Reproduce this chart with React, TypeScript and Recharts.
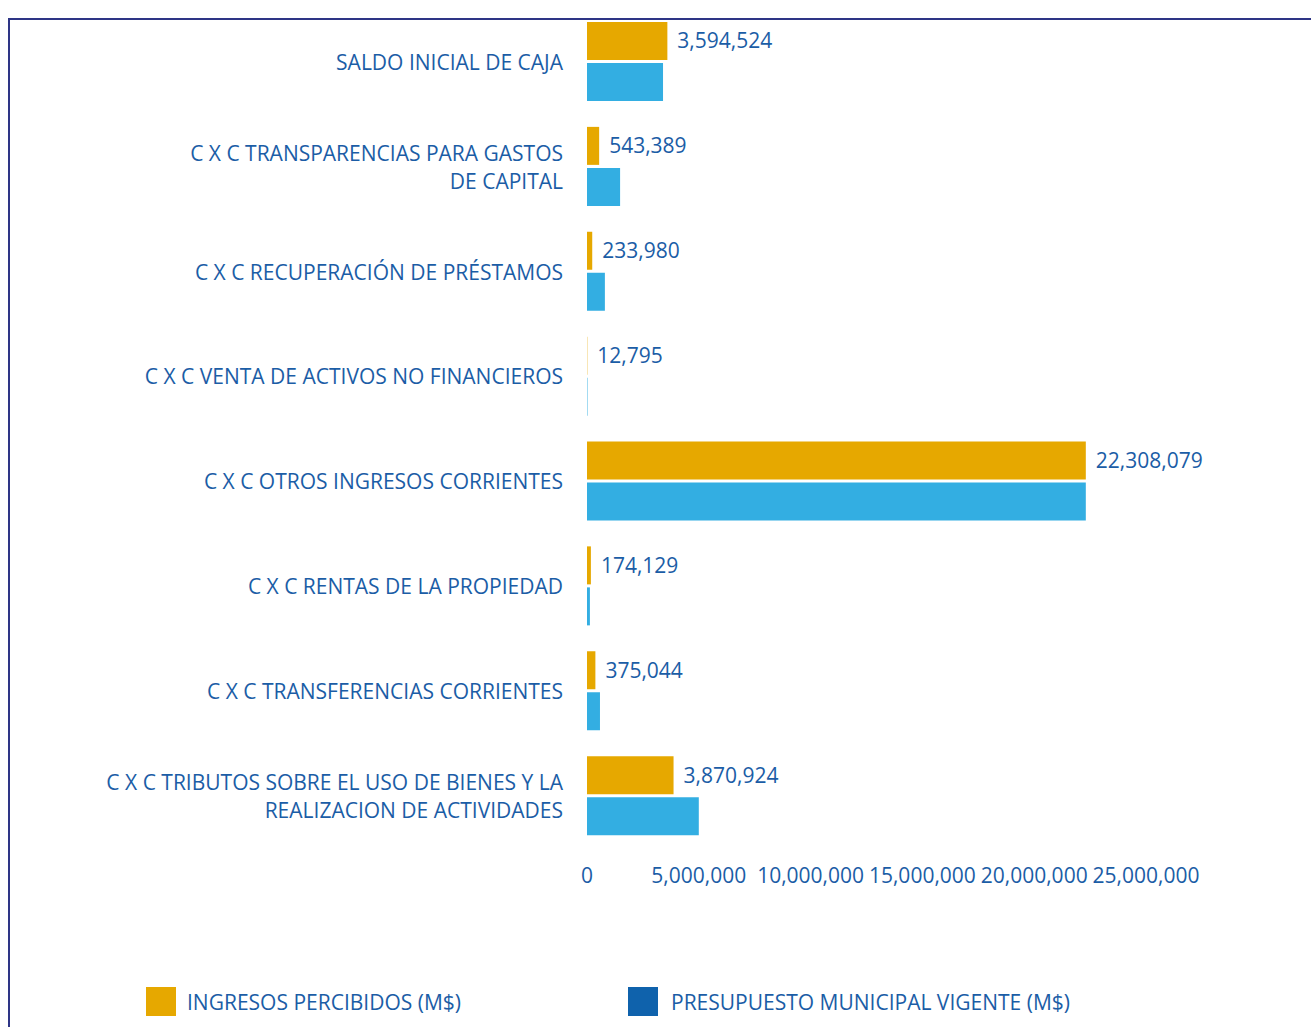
import React from 'react';
import { BarChart, Bar, XAxis, YAxis, LabelList } from 'recharts';

const categories = [
  'SALDO INICIAL DE CAJA',
  'C X C TRANSPARENCIAS PARA GASTOS\nDE CAPITAL',
  'C X C RECUPERACIÓN DE PRÉSTAMOS',
  'C X C VENTA DE ACTIVOS NO FINANCIEROS',
  'C X C OTROS INGRESOS CORRIENTES',
  'C X C RENTAS DE LA PROPIEDAD',
  'C X C TRANSFERENCIAS CORRIENTES',
  'C X C TRIBUTOS SOBRE EL USO DE BIENES Y LA\nREALIZACION DE ACTIVIDADES',
];
const ingresosPercibidos = [3594524, 543389, 233980, 12795, 22308079, 174129, 375044, 3870924];
const presupuestoVigente = [3400000, 1480000, 800000, 20000, 22308079, 130000, 580000, 5000000];
const xTicks = [0, 5000000, 10000000, 15000000, 20000000, 25000000];
const seriesNames = ['INGRESOS PERCIBIDOS (M$)', 'PRESUPUESTO MUNICIPAL VIGENTE (M$)'];
const barColors = ['#E6A800', '#33AEE2'];
const legendColors = ['#E6A800', '#0F62AC'];

const data = categories.map((c, i) => ({
  category: c,
  ingresos: ingresosPercibidos[i],
  presupuesto: presupuestoVigente[i],
}));

const TEXT = '#1B5DA6';
const FONT = '"Open Sans", sans-serif';
const FS = 21;
const fmt = (v: number) => v.toLocaleString('en-US');

const CategoryTick = (props: any) => {
  const { x, y, payload } = props;
  const lines = String(payload.value).split('\n');
  const lh = 28;
  const start = -((lines.length - 1) * lh) / 2;
  return (
    <text x={x} y={y} textAnchor="end" fill={TEXT} fontSize={FS} fontFamily={FONT}>
      {lines.map((l, i) => (
        <tspan key={i} x={x} y={y + start + i * lh + 1} dy="0.35em">{l}</tspan>
      ))}
    </text>
  );
};

export default function App() {
  return (
    <div style={{ position: 'fixed', left: 0, top: 0, width: 1311, height: 1027, overflow: 'hidden', background: '#fff' }}>
      <div style={{ position: 'absolute', left: 8, top: 18, width: 1400, height: 1100, borderLeft: '2px solid #2E3586', borderTop: '2px solid #2E3586' }} />
      <div style={{ position: 'absolute', left: 0, top: 0 }}>
        <BarChart
          width={1311}
          height={900}
          data={data}
          layout="vertical"
          margin={{ top: 9, right: 165, bottom: 0, left: 0 }}
          barSize={38}
          barGap={3}
        >
          <XAxis
            type="number"
            domain={[0, 25000000]}
            ticks={xTicks}
            interval={0}
            tickFormatter={fmt}
            axisLine={false}
            tickLine={false}
            tickSize={0}
            tickMargin={20}
            height={52}
            tick={{ fill: TEXT, fontSize: FS, fontFamily: FONT }}
          />
          <YAxis
            type="category"
            dataKey="category"
            width={587}
            axisLine={false}
            tickLine={false}
            tickSize={0}
            tickMargin={24}
            interval={0}
            tick={<CategoryTick />}
          />
          <Bar dataKey="ingresos" name={seriesNames[0]} fill={barColors[0]} isAnimationActive={false}>
            <LabelList dataKey="ingresos" position="right" offset={10} formatter={(v: any) => fmt(Number(v))} fill={TEXT} fontSize={FS} fontFamily={FONT} />
          </Bar>
          <Bar dataKey="presupuesto" name={seriesNames[1]} fill={barColors[1]} isAnimationActive={false} />
        </BarChart>
      </div>
      <div style={{ position: 'absolute', left: 146, top: 987, display: 'flex', alignItems: 'center', fontFamily: FONT, fontSize: FS, color: TEXT }}>
        <div style={{ width: 30, height: 29, background: legendColors[0], marginRight: 11 }} />
        <span>{seriesNames[0]}</span>
      </div>
      <div style={{ position: 'absolute', left: 628, top: 987, display: 'flex', alignItems: 'center', fontFamily: FONT, fontSize: FS, color: TEXT }}>
        <div style={{ width: 30, height: 29, background: legendColors[1], marginRight: 13 }} />
        <span>{seriesNames[1]}</span>
      </div>
    </div>
  );
}
